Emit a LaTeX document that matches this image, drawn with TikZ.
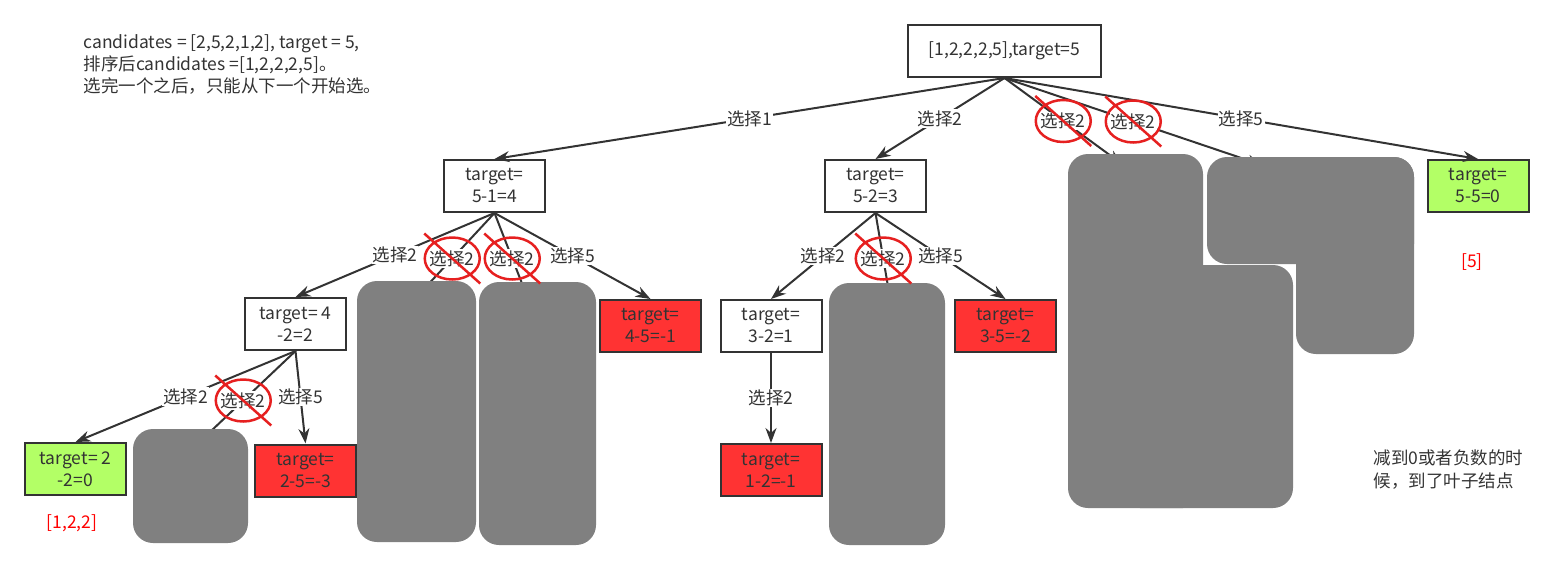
\documentclass[tikz,border=0pt]{standalone}
\usepackage{fontspec}
\setmainfont{Noto Sans CJK SC}
\usetikzlibrary{arrows.meta}

\definecolor{ink}{HTML}{333333}
\definecolor{leafok}{HTML}{B3FF66}
\definecolor{leafbad}{HTML}{FF3333}
\definecolor{hide}{HTML}{808080}
\definecolor{strike}{HTML}{E62020}

\begin{document}
\begin{tikzpicture}[%
    x=1pt, y=-1pt,
    >={Stealth[length=15pt,width=11pt]},
    font=\fontsize{17.5}{22}\selectfont,
    every node/.style={text=ink},
    box/.style={draw=ink, line width=2pt, fill=white, minimum width=101pt,
                minimum height=52pt, align=center, inner sep=1pt},
    ok/.style={box, fill=leafok},
    bad/.style={box, fill=leafbad},
    choice/.style={fill=white, inner sep=1pt},
    every edge/.style={draw=ink, line width=2pt}
    ]
    \useasboundingbox (0,0) rectangle (1556,576);

    % tree nodes
    \node[box, minimum width=193pt] (0) at (1004.5,51) {[1,2,2,2,5],target=5};
    \node[box] (1)   at (494.5,186)  {target=\\5-1=4};
    \node[box] (2)   at (875.5,186)  {target=\\5-2=3};
    \node[ok]  (5)   at (1478,186)   {target=\\5-5=0};
    \node[box] (12)  at (295.5,324)  {target= 4\\-2=2};
    \node[bad] (15)  at (650.5,326)  {target=\\4-5=-1};
    \node[box] (22)  at (771,326)    {target=\\3-2=1};
    \node[bad] (25)  at (1005.5,326) {target=\\3-5=-2};
    \node[ok]  (122) at (75.5,469)   {target= 2\\-2=0};
    \node[bad] (125) at (305.5,470.5) {target=\\2-5=-3};
    \node[bad] (222) at (771,470)    {target=\\1-2=-1};

    % pruned branches end under the grey patches
    \coordinate (3)   at (1122,164);
    \coordinate (4)   at (1262,165);
    \coordinate (13)  at (410,304);
    \coordinate (14)  at (530,304);
    \coordinate (23)  at (891,304);
    \coordinate (123) at (191,450);

    \path[->] (0.south) edge node[choice] {选择1} (1.north);
    \path[->] (0.south) edge node[choice] {选择2} (2.north);
    \path[->] (0.south) edge node[choice] (x3) {选择2} (3);
    \path[->] (0.south) edge node[choice] (x4) {选择2} (4);
    \path[->] (0.south) edge node[choice] {选择5} (5.north);

    \path[->] (1.south) edge node[choice] {选择2} (12.north);
    \path[->] (1.south) edge node[choice] (x13) {选择2} (13);
    \path[->] (1.south) edge node[choice] (x14) {选择2} (14);
    \path[->] (1.south) edge node[choice] {选择5} (15.north);

    \path[->] (2.south) edge node[choice] {选择2} (22.north);
    \path[->] (2.south) edge node[choice] (x23) {选择2} (23);
    \path[->] (2.south) edge node[choice] {选择5} (25.north);

    \path[->] (12.south) edge node[choice] {选择2} (122.north);
    \path[->] (12.south) edge node[choice] (x123) {选择2} (123);
    \path[->] (12.south) edge node[choice] {选择5} (125.north);

    \path[->] (22.south) edge node[choice] {选择2} (222.north);

    % grey patches
    \fill[hide, rounded corners=20pt] (133,429) rectangle (248,543);
    \fill[hide, rounded corners=20pt] (357,281) rectangle (476,542);
    \fill[hide, rounded corners=20pt] (479,282) rectangle (596,545);
    \fill[hide, rounded corners=20pt] (829,283) rectangle (945,545);
    \fill[hide, rounded corners=20pt] (1068,154) rectangle (1203,508);
    \fill[hide, rounded corners=20pt] (1120,265) rectangle (1293,508);
    \fill[hide, rounded corners=20pt] (1207,157) rectangle (1414,264);
    \fill[hide, rounded corners=20pt] (1296,157) rectangle (1414,354);

    % struck out duplicates
    \foreach \n in {x3,x4,x13,x14,x23,x123}
        \draw[strike, line width=2.5pt] (\n) ellipse (27.5 and 21)
            (\n.center) +(-28,-25) -- +(28,25);

    \node[anchor=north west, align=left] (note) at (80,31)
        {candidates = [2,5,2,1,2], target = 5,\\排序后candidates =[1,2,2,2,5]。\\选完一个之后，只能从下一个开始选。};
    \node[text=red] (ans1) at (72,523) {[1,2,2]};
    \node[text=red] (ans2) at (1472,262) {[5]};
    \node[anchor=north west, align=left, font=\fontsize{17.5}{23}\selectfont] (tip) at (1370,446)
        {减到0或者负数的时\\候，到了叶子结点};
\end{tikzpicture}
\end{document}
